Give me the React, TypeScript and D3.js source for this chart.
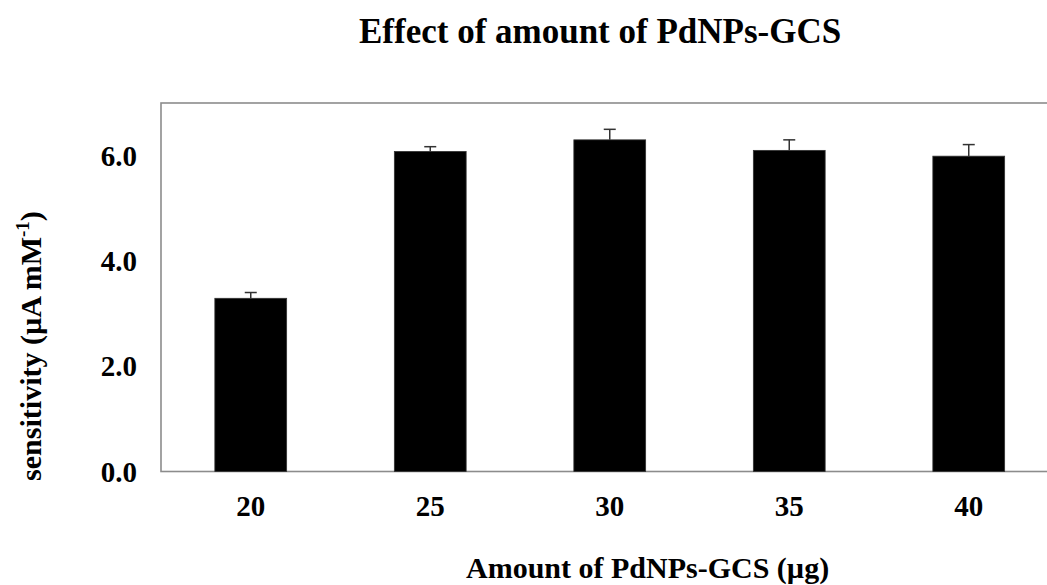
import React from "react";
import * as d3 from "d3";

const categories = ["20", "25", "30", "35", "40"];
const sensitivity = [3.29, 6.08, 6.3, 6.1, 5.99];
const errors = [0.11, 0.09, 0.2, 0.2, 0.22];
const yTicks = [0, 2, 4, 6];

const W = 1047;
const H = 585;
const margin = { left: 161, top: 103, bottom: 113.5 };
const plotW = 897.5;
const FONT = "'Liberation Serif', 'Times New Roman', serif";

export default function App() {
  const innerH = H - margin.top - margin.bottom;
  const x = d3
    .scaleBand<string>()
    .domain(categories)
    .range([margin.left, margin.left + plotW])
    .paddingInner(0.6)
    .paddingOuter(0.3);
  const y = d3.scaleLinear().domain([0, 7]).range([margin.top + innerH, margin.top]);
  const capHalf = 6;

  return (
    <svg
      width={W}
      height={H}
      style={{ position: "absolute", left: 0, top: 0, background: "#fff" }}
      fontFamily={FONT}
    >
      <text x={359} y={43} textAnchor="start" fontSize={35} fontWeight="bold">
        Effect of amount of PdNPs-GCS
      </text>

      <rect
        x={margin.left}
        y={margin.top}
        width={plotW}
        height={innerH}
        fill="none"
        stroke="#8c8c8c"
        strokeWidth={1.6}
      />

      {categories.map((c, i) => {
        const bx = x(c)!;
        const cx = bx + x.bandwidth() / 2;
        const top = y(sensitivity[i]);
        const errTop = y(sensitivity[i] + errors[i]);
        return (
          <g key={c}>
            <rect
              x={bx}
              y={top}
              width={x.bandwidth()}
              height={y(0) - top}
              fill="#000"
              stroke="#333"
              strokeWidth={0.8}
            />
            <line x1={cx} x2={cx} y1={top} y2={errTop} stroke="#333" strokeWidth={1.5} />
            <line
              x1={cx - capHalf}
              x2={cx + capHalf}
              y1={errTop}
              y2={errTop}
              stroke="#333"
              strokeWidth={1.5}
            />
            <text
              x={cx}
              y={516}
              textAnchor="middle"
              fontSize={29}
              fontWeight="bold"
            >
              {c}
            </text>
          </g>
        );
      })}

      {yTicks.map((t) => (
        <text
          key={t}
          x={137}
          y={y(t)}
          dy="0.35em"
          textAnchor="end"
          fontSize={29}
          fontWeight="bold"
        >
          {t.toFixed(1)}
        </text>
      ))}

      <text x={466} y={578} textAnchor="start" fontSize={30} fontWeight="bold">
        Amount of PdNPs-GCS (µg)
      </text>

      <text
        transform="translate(41,346) rotate(-90)"
        textAnchor="middle"
        fontSize={30}
        fontWeight="bold"
      >
        sensitivity (µA mM
        <tspan fontSize={19} dy={-12}>-1</tspan>
        <tspan dy={12}>)</tspan>
      </text>
    </svg>
  );
}
